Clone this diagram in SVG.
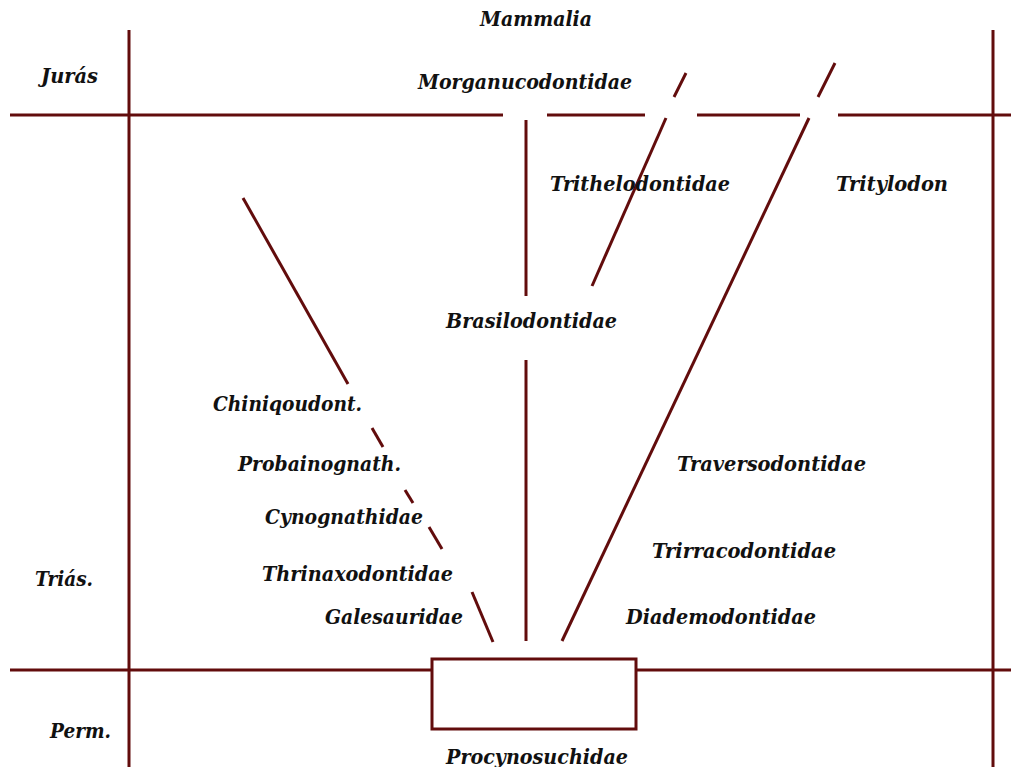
<svg xmlns="http://www.w3.org/2000/svg" width="1011" height="767" viewBox="0 0 1011 767">
<style>
.t{font-family:"DejaVu Serif","Liberation Serif",serif;font-weight:bold;font-style:italic;font-size:20.5px;fill:#111}
.l{stroke:#620c0c;stroke-width:3;fill:none;stroke-linecap:butt}
</style>
<rect width="1011" height="767" fill="#fff"/>
<g id="connectors">
<line class="l" x1="129" y1="30" x2="129" y2="767"/>
<line class="l" x1="993" y1="30" x2="993" y2="767"/>
<line class="l" x1="10" y1="115" x2="503" y2="115"/>
<line class="l" x1="547" y1="115" x2="645" y2="115"/>
<line class="l" x1="697" y1="115" x2="800" y2="115"/>
<line class="l" x1="838" y1="115" x2="1011" y2="115"/>
<line class="l" x1="10" y1="670" x2="432" y2="670"/>
<line class="l" x1="636" y1="670" x2="1011" y2="670"/>
<line class="l" x1="526" y1="120" x2="526" y2="296"/>
<line class="l" x1="526" y1="360" x2="526" y2="641"/>
<line class="l" x1="592" y1="286" x2="666" y2="118"/>
<line class="l" x1="674" y1="97" x2="686" y2="73"/>
<line class="l" x1="562" y1="641" x2="809" y2="118"/>
<line class="l" x1="818" y1="97" x2="835" y2="63"/>
<line class="l" x1="243" y1="198" x2="348" y2="384"/>
<line class="l" x1="372" y1="428" x2="383" y2="447"/>
<line class="l" x1="405" y1="490" x2="413" y2="503"/>
<line class="l" x1="429" y1="527" x2="442" y2="549"/>
<line class="l" x1="472" y1="592" x2="493" y2="642"/>
</g>
<g id="procynosuchidae">
<rect class="l" x="432" y="659" width="204" height="70"/>
<text class="t" x="446" y="764" textLength="182" lengthAdjust="spacingAndGlyphs">Procynosuchidae</text>
</g>
<g id="periods">
<text class="t" x="41" y="83" textLength="57" lengthAdjust="spacingAndGlyphs">Jurás</text>
<text class="t" x="35" y="586" textLength="58" lengthAdjust="spacingAndGlyphs">Triás.</text>
<text class="t" x="50" y="738" textLength="61" lengthAdjust="spacingAndGlyphs">Perm.</text>
</g>
<g id="mammalia"><text class="t" x="480" y="26" textLength="112" lengthAdjust="spacingAndGlyphs">Mammalia</text></g>
<g id="morganucodontidae"><text class="t" x="418" y="89" textLength="214" lengthAdjust="spacingAndGlyphs">Morganucodontidae</text></g>
<g id="trithelodontidae"><text class="t" x="550" y="191" textLength="180" lengthAdjust="spacingAndGlyphs">Trithelodontidae</text></g>
<g id="tritylodon"><text class="t" x="836" y="191" textLength="112" lengthAdjust="spacingAndGlyphs">Tritylodon</text></g>
<g id="brasilodontidae"><text class="t" x="446" y="328" textLength="171" lengthAdjust="spacingAndGlyphs">Brasilodontidae</text></g>
<g id="chiniqoudont"><text class="t" x="213" y="411" textLength="149" lengthAdjust="spacingAndGlyphs">Chiniqoudont.</text></g>
<g id="probainognath"><text class="t" x="238" y="471" textLength="163" lengthAdjust="spacingAndGlyphs">Probainognath.</text></g>
<g id="traversodontidae"><text class="t" x="677" y="471" textLength="189" lengthAdjust="spacingAndGlyphs">Traversodontidae</text></g>
<g id="cynognathidae"><text class="t" x="265" y="524" textLength="158" lengthAdjust="spacingAndGlyphs">Cynognathidae</text></g>
<g id="trirracodontidae"><text class="t" x="652" y="558" textLength="184" lengthAdjust="spacingAndGlyphs">Trirracodontidae</text></g>
<g id="thrinaxodontidae"><text class="t" x="262" y="581" textLength="191" lengthAdjust="spacingAndGlyphs">Thrinaxodontidae</text></g>
<g id="galesauridae"><text class="t" x="325" y="624" textLength="138" lengthAdjust="spacingAndGlyphs">Galesauridae</text></g>
<g id="diademodontidae"><text class="t" x="626" y="624" textLength="190" lengthAdjust="spacingAndGlyphs">Diademodontidae</text></g>
</svg>
